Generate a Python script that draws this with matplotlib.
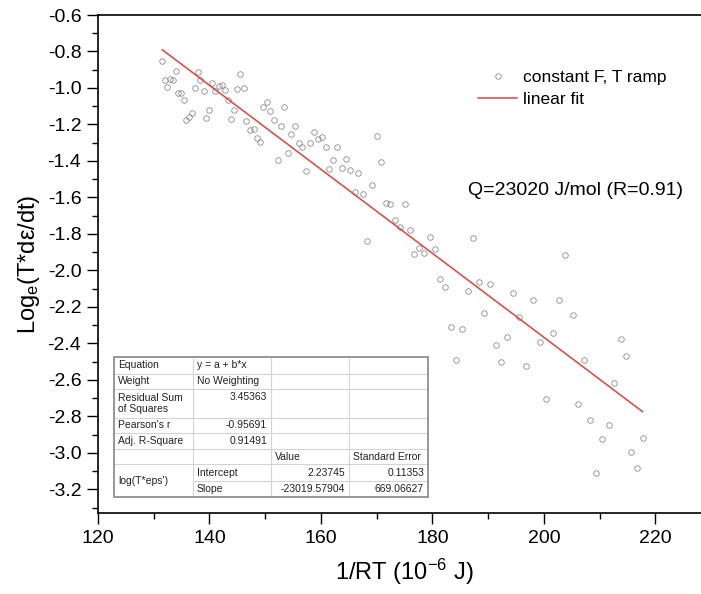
import matplotlib
matplotlib.use("Agg")
import matplotlib.pyplot as plt
from matplotlib.ticker import MultipleLocator
from matplotlib.patches import Rectangle
import numpy as np

plt.rcParams['font.family'] = ['Liberation Sans', 'DejaVu Sans']
plt.rcParams['mathtext.fontset'] = 'custom'
plt.rcParams['mathtext.rm'] = 'Liberation Sans'
plt.rcParams['mathtext.it'] = 'Liberation Sans:italic'

# data: 1/RT (10^-6 J) and log_e(T*deps/dt)
inv_rt = [131.54, 133.95, 137.90, 131.97, 132.93, 133.46, 132.44, 134.36, 134.90, 135.39,
          138.37, 137.41, 138.98, 140.52, 141.67, 142.21, 142.75, 141.00, 145.49, 144.95,
          146.16, 143.28, 144.42, 139.93, 136.88, 136.34, 135.85, 139.44, 143.88, 146.62,
          147.29, 147.95, 148.60, 149.08, 149.68, 150.34, 150.93, 151.60, 152.80, 153.39,
          154.70, 154.06, 152.26, 155.42, 156.09, 156.68, 158.11, 158.78, 159.50, 160.16,
          160.88, 162.96, 162.24, 164.58, 161.53, 163.75, 165.30, 166.73, 157.34, 170.04,
          170.86, 166.14, 167.52, 169.19, 171.65, 172.48, 175.06, 173.32, 174.16, 175.96,
          168.29, 179.60, 177.68, 176.79, 178.53, 180.45, 181.45, 182.35, 187.27, 203.89,
          186.37, 188.35, 190.38, 194.45, 198.10, 202.76, 205.15, 189.35, 195.58, 183.37,
          185.40, 193.37, 191.40, 199.23, 201.63, 213.77, 184.33, 192.40, 196.84, 207.20,
          214.67, 212.64, 200.43, 206.17, 208.28, 211.69, 210.48, 209.35, 215.60, 217.72,
          216.71]
log_rate = [-0.852, -0.907, -0.911, -0.958, -0.951, -0.957, -0.997, -1.030, -1.028, -1.066,
            -0.958, -1.002, -1.017, -0.975, -0.989, -0.984, -1.011, -1.015, -0.924, -1.004,
            -1.000, -1.066, -1.121, -1.123, -1.138, -1.160, -1.178, -1.167, -1.170, -1.181,
            -1.232, -1.224, -1.276, -1.297, -1.105, -1.077, -1.128, -1.176, -1.211, -1.106,
            -1.254, -1.359, -1.394, -1.209, -1.302, -1.326, -1.304, -1.240, -1.280, -1.271,
            -1.326, -1.324, -1.397, -1.392, -1.446, -1.441, -1.452, -1.465, -1.457, -1.262,
            -1.405, -1.571, -1.580, -1.534, -1.633, -1.637, -1.637, -1.723, -1.761, -1.776,
            -1.840, -1.818, -1.880, -1.909, -1.906, -1.882, -2.048, -2.090, -1.825, -1.915,
            -2.112, -2.065, -2.074, -2.125, -2.163, -2.160, -2.247, -2.236, -2.258, -2.311,
            -2.321, -2.365, -2.410, -2.394, -2.344, -2.376, -2.494, -2.503, -2.524, -2.494,
            -2.471, -2.619, -2.706, -2.734, -2.820, -2.845, -2.926, -3.109, -2.994, -2.917,
            -3.081]

# fit parameters (from the table)
intercept = 2.23745
slope = -23019.57904

# fit report table
table_rows = [
    ["Equation", "y = a + b*x", "", ""],
    ["Weight", "No Weighting", "", ""],
    ["Residual Sum\nof Squares", "3.45363", "", ""],
    ["Pearson's r", "-0.95691", "", ""],
    ["Adj. R-Square", "0.91491", "", ""],
    ["", "", "Value", "Standard Error"],
    ["log(T*eps')", "Intercept", "2.23745", "0.11353"],
    ["", "Slope", "-23019.57904", "669.06627"],
]

W, H = 701, 594
fig = plt.figure(figsize=(W / 100, H / 100), dpi=100)
ax = fig.add_axes([98 / W, 1 - 513 / H, 613 / W, 498 / H])

ax.plot(inv_rt, log_rate, 'o', ms=4.0, mfc='none', mec='#8c8c8c', mew=0.6,
        label='constant F, T ramp')
xf = np.array([min(inv_rt), max(inv_rt)])
ax.plot(xf, intercept + slope * 1e-6 * xf, color='#e8403a', lw=1.1, label='linear fit')

ax.set_xlim(120, 230)
ax.set_ylim(-3.33, -0.6)
ax.xaxis.set_major_locator(MultipleLocator(20))
ax.xaxis.set_minor_locator(MultipleLocator(10))
ax.yaxis.set_major_locator(MultipleLocator(0.2))
ax.yaxis.set_minor_locator(MultipleLocator(0.1))
ax.yaxis.set_major_formatter(matplotlib.ticker.FormatStrFormatter('%.1f'))
ax.tick_params(which='major', direction='out', length=8, width=1.0, labelsize=14, pad=4)
ax.tick_params(which='minor', direction='out', length=4.5, width=1.0)
ax.spines['right'].set_visible(False)
for s in ['left', 'bottom', 'top']:
    ax.spines[s].set_linewidth(1.2)

ax.set_xlabel('1/RT (10$^{\\mathregular{-6}}$ J)', fontsize=17, labelpad=7)
ax.set_ylabel('Log$_\\mathregular{e}$(T*dε/dt)', fontsize=17)
ax.yaxis.set_label_coords(-0.092, 0.5)

ax.legend(loc='upper left', bbox_to_anchor=(478 / W, 1 - 70 / H), bbox_transform=fig.transFigure,
          frameon=False, fontsize=12.5, numpoints=1, handlelength=2.25, handletextpad=0.35,
          borderpad=0, borderaxespad=0, labelspacing=0.38)

ax.text(186.4, -1.56, 'Q=23020 J/mol (R=0.91)', fontsize=14, va='center', ha='left')

# table drawn in its own axes (pixel units inside)
tab = fig.add_axes([114 / W, 1 - 497 / H, 314 / W, 140 / H])
tab.set_xlim(0, 314)
tab.set_ylim(140, 0)
tab.axis('off')
row_edges = [0, 17, 32, 61, 76, 92, 107, 124, 140]
col_edges = [0, 79, 157, 235, 314]
tab.add_patch(Rectangle((0, 0), 314, 140, facecolor='white', edgecolor='none', zorder=0))
for y in row_edges[1:-1]:
    x0 = col_edges[1] if y == 124 else 0
    tab.plot([x0, 314], [y, y], color='#d4d4d4', lw=0.8, zorder=1)
for x in col_edges[1:-1]:
    tab.plot([x, x], [0, 140], color='#d4d4d4', lw=0.8, zorder=1)
tab.add_patch(Rectangle((0, 0), 314, 140, facecolor='none', edgecolor='#8f8f8f', lw=1.3,
                        zorder=3, clip_on=False))

numeric_right = {(2, 1), (3, 1), (4, 1), (6, 2), (6, 3), (7, 2), (7, 3)}
for r, row in enumerate(table_rows):
    for c, txt in enumerate(row):
        if not txt:
            continue
        y = (row_edges[r] + row_edges[r + 1]) / 2
        if (r, c) == (6, 0):
            y = (row_edges[6] + row_edges[8]) / 2
        if (r, c) == (2, 1):
            y = row_edges[2] + 8
        if (r, c) in numeric_right:
            tab.text(col_edges[c + 1] - 4, y, txt, ha='right', va='center', fontsize=7.5,
                     color='#222222', linespacing=1.15)
        else:
            tab.text(col_edges[c] + 4, y, txt, ha='left', va='center', fontsize=7.5,
                     color='#222222', linespacing=1.15)

fig.savefig('out.png', dpi=100)
